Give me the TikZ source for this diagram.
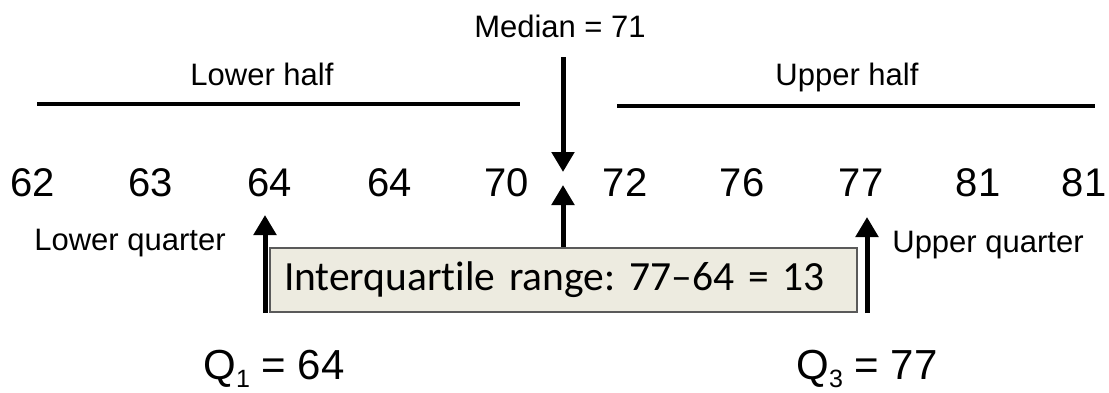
\documentclass[tikz,border=0pt]{standalone}
\usepackage{fontspec}
\setmainfont{Liberation Sans}
\newfontfamily\boxfont[Ligatures={NoCommon}]{Carlito}
\usetikzlibrary{arrows.meta}
\definecolor{boxfill}{HTML}{EDEBE0}
\definecolor{boxline}{HTML}{5A5A5A}
\newcommand{\qsub}[1]{\raisebox{-8pt}{\fontsize{25}{25}\selectfont #1}}
\tikzset{
	num/.style={anchor=base, inner sep=0pt, font=\fontsize{40}{40}\selectfont},
	lbl/.style={anchor=base, inner sep=0pt, font=\fontsize{31}{31}\selectfont},
	qlbl/.style={anchor=base, inner sep=0pt, font=\fontsize{42}{42}\selectfont},
	bigarrow/.style={line width=5pt, -{Triangle[width=22pt,length=20pt]}},
	halfline/.style={line width=3.5pt},
	iqrbox/.style={draw=boxline, line width=2pt, fill=boxfill, inner xsep=14pt,
		text width=559pt, minimum height=64pt, align=left,
		font=\boxfont\frenchspacing\fontsize{41.5}{42}\selectfont},
}
\begin{document}
\begin{tikzpicture}[x=1pt,y=1pt]
	\useasboundingbox (0,0) rectangle (1109,392);
	% the ten values
	\foreach \x/\v [count=\i] in {33/62,151/63,270/64,390/64,507/70,
								625/72,742/76,861/77,978/81,1084/81}
		\node[num] (n\i) at (\x,196) {\v};

	% median and the two halves
	\node[lbl] (median) at (560,354) {Median = 71};
	\node[lbl] (lowhalf) at (262,307) {Lower half};
	\node[lbl] (uphalf) at (847,307) {Upper half};
	\draw[halfline] (37,288) -- (520,288);
	\draw[halfline] (617,286) -- (1095,286);

	% quarters
	\node[lbl] (lowq) at (130,142) {Lower quarter};
	\node[lbl] (upq) at (988,140) {Upper quarter};
	\node[iqrbox] (iqr) at (563.5,112) {Interquartile range: 77–64 = 13};

	\coordinate (medtop) at (563,335);
	\coordinate (medtip) at (563,220);
	\coordinate (midtip) at (563,207);
	\coordinate (q1tip) at (265,177);
	\coordinate (q3tip) at (867,175);
	\draw[bigarrow] (medtop) -- (medtip);
	\draw[bigarrow] (iqr.north -| midtip) -- (midtip);
	\draw[bigarrow] (iqr.south -| q1tip) -- (q1tip);
	\draw[bigarrow] (iqr.south -| q3tip) -- (q3tip);

	\node[qlbl] (q1) at (274,13) {Q\qsub{1} = 64};
	\node[qlbl] (q3) at (867,13) {Q\qsub{3} = 77};
\end{tikzpicture}
\end{document}
